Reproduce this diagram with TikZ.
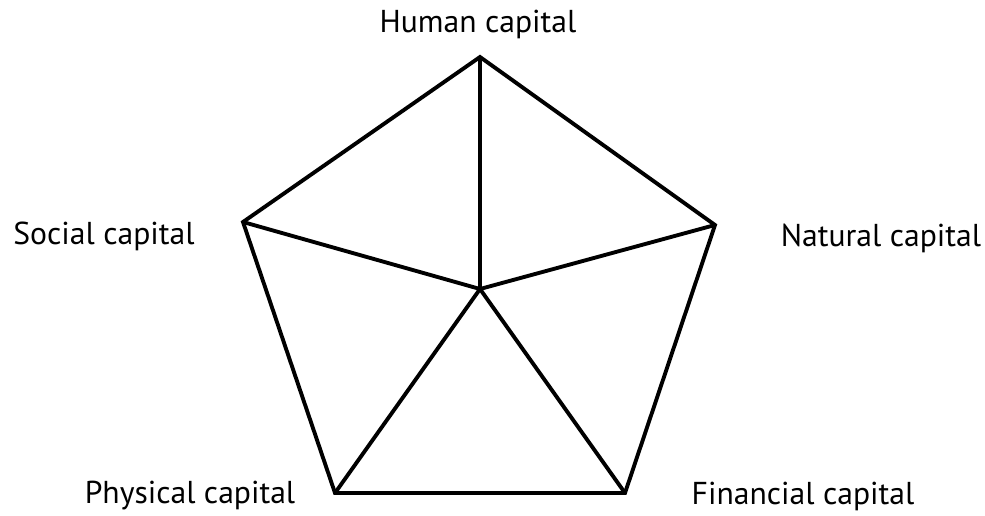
\documentclass[tikz,border=0pt]{standalone}
\usepackage{fontspec}
\setmainfont{PT Sans}
\usetikzlibrary{positioning}

\begin{document}
\begin{tikzpicture}[
    x=0.01cm, y=-0.01cm,
    edge/.style={line width=1.1pt, line join=miter},
    lbl/.style={font=\fontsize{9}{11}\selectfont, inner sep=0pt, anchor=center}
]
\useasboundingbox (0,0) rectangle (985,515);
% Corners of the pentagon
\coordinate (hum) at (480, 57);
\coordinate (nat) at (715,225);
\coordinate (fin) at (625,493);
\coordinate (phy) at (335,493);
\coordinate (soc) at (243,222);
\coordinate (mid) at (480,289);
% Outline
\draw[edge] (hum) -- (nat) -- (fin) -- (phy) -- (soc) -- cycle;
% Spokes
\foreach \c in {hum,nat,fin,phy,soc}
    \draw[edge] (mid) -- (\c);
% Labels
\node[lbl] (humlbl) at (478, 24) {Human capital};
\node[lbl] (soclbl) at (104,236) {Social capital};
\node[lbl] (natlbl) at (881,238) {Natural capital};
\node[lbl] (phylbl) at (190,496) {Physical capital};
\node[lbl] (finlbl) at (803,496) {Financial capital};
\end{tikzpicture}
\end{document}
